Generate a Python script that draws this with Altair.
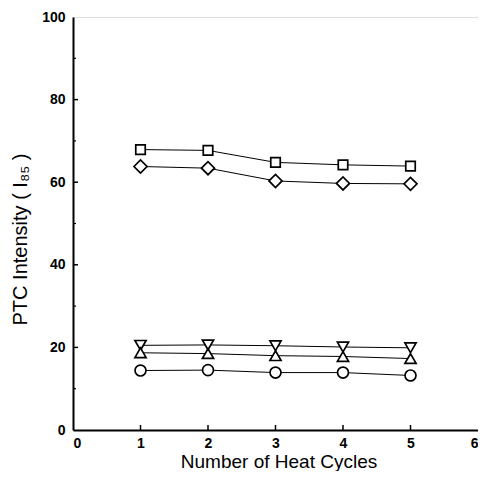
import altair as alt
import pandas as pd

# ---- data ----
cycles = [1, 2, 3, 4, 5]
series_names = ["square", "diamond", "triangle-down", "triangle-up", "circle"]
square_vals = [67.9, 67.7, 64.8, 64.2, 63.9]
diamond_vals = [63.8, 63.4, 60.3, 59.7, 59.6]
tri_down_vals = [20.5, 20.6, 20.4, 20.1, 19.9]
tri_up_vals = [18.7, 18.5, 18.0, 17.8, 17.3]
circle_vals = [14.4, 14.5, 13.9, 13.9, 13.2]

x_ticks = [0, 1, 2, 3, 4, 5, 6]
y_ticks = [0, 20, 40, 60, 80, 100]
x_inner_ticks = [1, 2, 3, 4, 5]
y_inner_major = [20, 40, 60, 80]
y_inner_minor = [10, 30, 50, 70, 90]

# marker style per series (shape, area in px^2)
marker_style = {
    "square": 90,
    "diamond": 170,
    "triangle-down": 125,
    "triangle-up": 125,
    "circle": 120,
}

rows = []
for name, vals in zip(series_names, [square_vals, diamond_vals, tri_down_vals, tri_up_vals, circle_vals]):
    for c, v in zip(cycles, vals):
        rows.append({"cycle": c, "value": v, "series": name})
df = pd.DataFrame(rows)

W, H = 405, 413
FONT = "Liberation Sans"

x_scale = alt.Scale(domain=[0, 6], nice=False, zero=False)
y_scale = alt.Scale(domain=[0, 100], nice=False)

x_axis = alt.Axis(
    values=x_ticks, format="d", title="Number of Heat Cycles", grid=False,
    ticks=False, tickSize=0, labelPadding=6, labelFontSize=14, labelFontWeight="bold",
    labelFont=FONT, labelColor="black", domainColor="black", domainWidth=2,
    titleFont=FONT, titleFontSize=19, titleFontWeight="normal", titleColor="black",
    titleX=W / 2 + 3, titleY=37, titleBaseline="alphabetic", titleAnchor="middle",
)
y_axis = alt.Axis(
    values=y_ticks, format="d", title="PTC Intensity ( I\u2088\u2085 )", grid=False,
    ticks=False, tickSize=0, labelPadding=8, labelFontSize=14, labelFontWeight="bold",
    labelFont=FONT, labelColor="black", domainColor="black", domainWidth=2,
    titleFont=FONT, titleFontSize=20, titleFontWeight="normal", titleColor="black",
    titleAngle=-90, titleX=-47, titleY=222, titleBaseline="alphabetic", titleAlign="center",
)

base = alt.Chart(df)

lines = base.mark_line(color="black", strokeWidth=1).encode(
    x=alt.X("cycle:Q", scale=x_scale, axis=x_axis),
    y=alt.Y("value:Q", scale=y_scale, axis=y_axis),
    detail="series:N",
)

point_layers = []
for name in series_names:
    point_layers.append(
        base.transform_filter(alt.datum.series == name)
        .mark_point(shape=name, size=marker_style[name], filled=True, fill="white",
                    stroke="black", strokeWidth=1.7, opacity=1)
        .encode(x=alt.X("cycle:Q", scale=x_scale), y=alt.Y("value:Q", scale=y_scale))
    )

# inward-pointing axis ticks
xt = alt.Chart(pd.DataFrame({"t": x_inner_ticks})).mark_rule(color="black", strokeWidth=1.5).encode(
    x=alt.X("t:Q", scale=x_scale), y=alt.value(H), y2=alt.value(H - 5)
)
ytM = alt.Chart(pd.DataFrame({"t": y_inner_major})).mark_rule(color="black", strokeWidth=1.5).encode(
    y=alt.Y("t:Q", scale=y_scale), x=alt.value(0), x2=alt.value(5)
)
ytm = alt.Chart(pd.DataFrame({"t": y_inner_minor})).mark_rule(color="black", strokeWidth=1.2).encode(
    y=alt.Y("t:Q", scale=y_scale), x=alt.value(0), x2=alt.value(3)
)

chart = alt.layer(lines, xt, ytM, ytm, *point_layers).properties(
    width=W, height=H,
    autosize=alt.AutoSizeParams(type="none"),
    padding={"left": 65, "top": 9, "right": 0, "bottom": 41},
).configure_view(stroke="black", strokeWidth=1.5).configure(background="white")

chart.save("out.html", embed_options={"renderer": "svg", "actions": False})
